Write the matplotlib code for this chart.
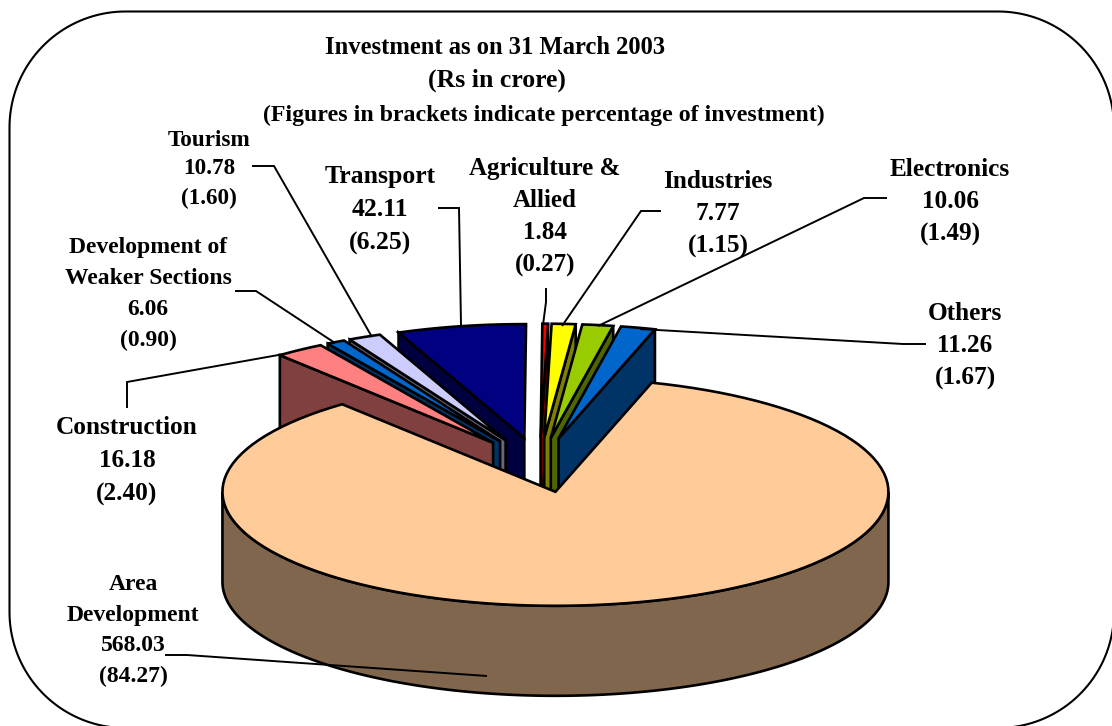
import numpy as np
import matplotlib
matplotlib.use("Agg")
import matplotlib.pyplot as plt
from matplotlib.patches import Polygon

# ---------- data (clockwise from 12 o'clock) ----------
names = ["Agriculture &\nAllied", "Industries", "Electronics", "Others",
         "Area\nDevelopment", "Construction", "Development of\nWeaker Sections",
         "Tourism", "Transport"]
values = [1.84, 7.77, 10.06, 11.26, 568.03, 16.18, 6.06, 10.78, 42.11]
percents = [0.27, 1.15, 1.49, 1.67, 84.27, 2.40, 0.90, 1.60, 6.25]
colors = ["#FF0000", "#FFFF00", "#99CC00", "#0066CC", "#FFCC99",
          "#FF8080", "#0066CC", "#CCCCFF", "#000080"]

title_lines = ["Investment as on 31 March 2003", "(Rs in crore)",
               "(Figures in brackets indicate percentage of investment)"]

# ---------- layout ----------
CX, CY = 539.5, 465.0      # pie centre in pixels
A, B = 333.0, 114.0        # ellipse semi-axes
EXPLODE = 0.24
ROTATION = 0.3
DEPTH = 90.0
LW = 1.9
FONT = "Liberation Serif"

# label anchor: centre x, first line y, line pitch, font size
label_pos = [(545, 168, 32.4, 18), (718, 181, 32.5, 18.2), (950, 169, 32.5, 18.2),
             (965, 313, 32.5, 18.2), (133, 584.5, 30.5, 17), (127, 427, 33.5, 18.2),
             (148, 248, 30.7, 17), (209, 140, 29, 16.7), (380, 177, 33, 18.5)]
leaders = [
    [(546, 288), (546, 302), (543, 325)],
    [(661, 211), (641, 211), (562, 326)],
    [(887, 198), (864, 198), (598, 326)],
    [(926, 344), (903, 344), (640, 329)],
    [(165, 655), (187, 655), (487, 676)],
    [(127, 408), (127, 382), (284, 354)],
    [(235, 291), (256, 291), (335, 343)],
    [(252, 166), (274, 166), (372, 337)],
    [(438, 208), (459, 208), (461, 325)],
]

fig = plt.figure(figsize=(11.12, 7.26), dpi=100)
ax = fig.add_axes([0, 0, 1, 1])
ax.set_xlim(0, 1112)
ax.set_ylim(726, 0)
ax.axis("off")

# ---------- rounded frame ----------
L, T, R, Bt, r = 9.5, 11.5, 1114, 728, 116
def corner(cx, cy, a0, a1):
    t = np.radians(np.linspace(a0, a1, 40))
    return np.c_[cx + r * np.cos(t), cy + r * np.sin(t)]
frame = np.vstack([corner(L + r, T + r, 180, 270), corner(R - r, T + r, 270, 360),
                   corner(R - r, Bt - r, 0, 90), corner(L + r, Bt - r, 90, 180)])
ax.add_patch(Polygon(frame, closed=True, fc="white", ec="black", lw=1.5, zorder=0))

# ---------- pie ----------
total = sum(values)
sweeps = np.array(values) / total * 360.0
ends = np.cumsum(sweeps) + ROTATION
starts = ends - sweeps
mids = (starts + ends) / 2


def rim(cx, cy, t0, t1, n=120):
    t = np.radians(np.linspace(t0, t1, n))
    return np.c_[cx + A * np.sin(t), cy - B * np.cos(t)]


def darker(c):
    return tuple(np.array(matplotlib.colors.to_rgb(c)) * 0.5)


def top_dist(m):
    return min(m, 360 - m)

# slices nearest 12 o'clock are painted first, the big front slice last
order = sorted(range(len(values)), key=lambda i: (sweeps[i] > 180, top_dist(mids[i])))
z = 2
for i in order:
    m = np.radians(mids[i])
    cx = CX + EXPLODE * A * np.sin(m)
    cy = CY - EXPLODE * B * np.cos(m)
    apex = np.array([cx, cy])
    shade = darker(colors[i])
    down = np.array([0, DEPTH])
    if sweeps[i] <= 180:
        t = starts[i] if mids[i] > 180 else ends[i]
        edge = rim(cx, cy, t, t, 1)[0]
        wall = np.array([apex, edge, edge + down, apex + down])
    else:
        arc = rim(cx, cy, max(starts[i], 90), min(ends[i], 270))
        wall = np.vstack([arc, (arc + down)[::-1]])
    ax.add_patch(Polygon(wall, closed=True, fc=shade, ec="black", lw=LW,
                         joinstyle="miter", zorder=z))
    face = np.vstack([apex, rim(cx, cy, starts[i], ends[i])])
    ax.add_patch(Polygon(face, closed=True, fc=colors[i], ec="black", lw=LW,
                         joinstyle="miter", zorder=z + 1))
    z += 2

# ---------- leader lines ----------
for pts in leaders:
    xy = np.array(pts)
    ax.plot(xy[:, 0], xy[:, 1], color="black", lw=1.4, zorder=50,
            solid_joinstyle="miter", solid_capstyle="butt")

# ---------- labels ----------
for i, (x, y, pitch, size) in enumerate(label_pos):
    lines = names[i].split("\n") + [f"{values[i]:.2f}", f"({percents[i]:.2f})"]
    for k, s in enumerate(lines):
        ax.text(x, y + k * pitch, s, ha="center", va="center", family=FONT,
                weight="bold", fontsize=size, color="black", zorder=60)

for s, x, y, size in zip(title_lines, [495, 497, 544], [47.5, 80, 115], [17.7, 18.5, 17.2]):
    ax.text(x, y, s, ha="center", va="center", family=FONT, weight="bold",
            fontsize=size, color="black", zorder=60)

fig.savefig("out.png", dpi=100)
